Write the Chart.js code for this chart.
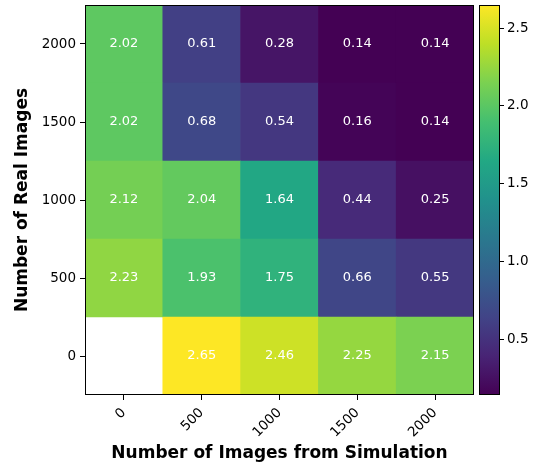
<!DOCTYPE html>
<html>
<head>
<meta charset="utf-8">
<script src="https://cdn.jsdelivr.net/npm/chart.js@4"></script>
<style>
  body { margin: 0; background: #fff; }
  #wrap { position: relative; width: 542px; height: 468px; }
  #heat { position: absolute; left: 0; top: 0; }
  #cbar { position: absolute; left: 0; top: 0; }
</style>
</head>
<body>
<div id="wrap">
  <canvas id="heat" width="542" height="468"></canvas>
  <canvas id="cbar" width="542" height="468"></canvas>
</div>
<script>
// categories
const simLabels = ['0', '500', '1000', '1500', '2000'];
const realLabels = ['0', '500', '1000', '1500', '2000']; // bottom -> top
// values, one array per real-image row (bottom -> top), null = no data
const row0 = [null, 2.65, 2.46, 2.25, 2.15];
const row500 = [2.23, 1.93, 1.75, 0.66, 0.55];
const row1000 = [2.12, 2.04, 1.64, 0.44, 0.25];
const row1500 = [2.02, 0.68, 0.54, 0.16, 0.14];
const row2000 = [2.02, 0.61, 0.28, 0.14, 0.14];
const rows = [row0, row500, row1000, row1500, row2000];
const cbarTicks = [0.5, 1.0, 1.5, 2.0, 2.5];

// viridis stops
const viridis = ['#440154', '#482475', '#414487', '#355f8d', '#2a788e', '#21918c',
  '#22a884', '#44bf70', '#7ad151', '#bddf26', '#fde725'];

const allVals = rows.flat().filter(v => v !== null);
const vmin = Math.min(...allVals);
const vmax = Math.max(...allVals);

function hexToRgb(h) {
  return [parseInt(h.slice(1, 3), 16), parseInt(h.slice(3, 5), 16), parseInt(h.slice(5, 7), 16)];
}
function colorFor(v) {
  if (v === null) return 'rgba(0,0,0,0)';
  let t = (v - vmin) / (vmax - vmin);
  t = Math.max(0, Math.min(1, t));
  const p = t * (viridis.length - 1);
  const i = Math.min(Math.floor(p), viridis.length - 2);
  const f = p - i;
  const a = hexToRgb(viridis[i]), b = hexToRgb(viridis[i + 1]);
  const c = a.map((x, k) => Math.round(x + (b[k] - x) * f));
  return `rgb(${c[0]},${c[1]},${c[2]})`;
}

const FONT = 'DejaVu Sans';
Chart.defaults.font.family = FONT;
Chart.defaults.color = '#000';

const frame = {
  id: 'frame',
  afterDraw(chart) {
    const a = chart.chartArea, ctx = chart.ctx;
    ctx.save();
    ctx.strokeStyle = '#000';
    ctx.lineWidth = 1;
    ctx.strokeRect(Math.round(a.left) + 0.5, Math.round(a.top) + 0.5,
      Math.round(a.right - a.left) - 1, Math.round(a.bottom - a.top) - 1);
    ctx.restore();
  }
};

const cellText = {
  id: 'cellText',
  afterDatasetsDraw(chart) {
    const ctx = chart.ctx;
    ctx.save();
    ctx.fillStyle = '#fff';
    ctx.font = `13px "${FONT}"`;
    ctx.textAlign = 'center';
    ctx.textBaseline = 'middle';
    chart.data.datasets.forEach((ds, di) => {
      chart.getDatasetMeta(di).data.forEach((el, i) => {
        const v = rows[di][i];
        if (v === null) return;
        const cy = (el.y + el.base) / 2;
        ctx.fillText(v.toFixed(2), el.x, cy);
      });
    });
    ctx.restore();
  }
};

const noPad = s => { s.paddingTop = 0; s.paddingBottom = 0; };

new Chart(document.getElementById('heat'), {
  type: 'bar',
  data: {
    labels: simLabels,
    datasets: rows.map((r, ri) => ({
      label: realLabels[ri],
      data: r.map(() => 1),
      backgroundColor: r.map(colorFor),
      borderWidth: 0,
      barPercentage: 1,
      categoryPercentage: 1
    }))
  },
  options: {
    responsive: false,
    animation: false,
    layout: { padding: { top: 5, right: 68, left: 12, bottom: 0 } },
    plugins: { legend: { display: false }, tooltip: { enabled: false } },
    scales: {
      x: {
        stacked: true,
        grid: { offset: false, drawOnChartArea: false, drawTicks: true, tickLength: 5, tickColor: '#000', tickWidth: 1 },
        border: { display: false },
        ticks: { maxRotation: 45, minRotation: 45, font: { size: 13.5 }, padding: 5 },
        title: { display: true, text: 'Number of Images from Simulation', font: { size: 17, weight: 'bold' }, padding: { top: 0, bottom: 4 } },
        afterFit: s => { s.height = 73; }
      },
      y: {
        stacked: true,
        min: 0, max: 5,
        afterBuildTicks: s => { s.ticks = realLabels.map((_, i) => ({ value: i + 0.5 })); },
        grid: { drawOnChartArea: false, drawTicks: true, tickLength: 5, tickColor: '#000', tickWidth: 1 },
        border: { display: false },
        ticks: { font: { size: 13.5 }, padding: 4, callback: (v) => realLabels[Math.round(v - 0.5)] },
        title: { display: true, text: 'Number of Real Images', font: { size: 17, weight: 'bold' }, padding: { top: 0, bottom: 4 } },
        afterFit: s => { s.width = 73; noPad(s); }
      }
    }
  },
  plugins: [cellText, frame]
});

function gradientFill(ctx) {
  const chart = ctx.chart;
  const a = chart.chartArea;
  if (!a) return viridis[5];
  const g = chart.ctx.createLinearGradient(0, a.bottom, 0, a.top);
  viridis.forEach((c, i) => g.addColorStop(i / (viridis.length - 1), c));
  return g;
}

new Chart(document.getElementById('cbar'), {
  type: 'bar',
  data: {
    labels: ['cb'],
    datasets: [{ data: [[vmin, vmax]], backgroundColor: gradientFill, borderWidth: 0, barPercentage: 1, categoryPercentage: 1 }]
  },
  options: {
    responsive: false,
    animation: false,
    layout: { padding: { top: 5, left: 479, right: 0, bottom: 73 } },
    plugins: { legend: { display: false }, tooltip: { enabled: false } },
    scales: {
      x: { display: false },
      y: {
        position: 'right',
        min: vmin, max: vmax,
        afterBuildTicks: s => { s.ticks = cbarTicks.map(v => ({ value: v })); },
        grid: { drawOnChartArea: false, drawTicks: true, tickLength: 4, tickColor: '#000' },
        border: { display: false },
        ticks: { font: { size: 13.5 }, padding: 3, callback: v => v.toFixed(1) },
        afterFit: s => { s.width = 42; noPad(s); }
      }
    }
  },
  plugins: [frame]
});
</script>
</body>
</html>
